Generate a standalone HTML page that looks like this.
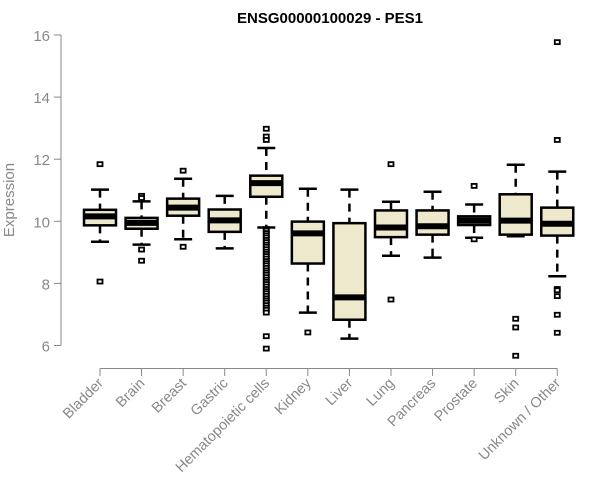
<!DOCTYPE html>
<html><head><meta charset="utf-8"><style>
body{margin:0;background:#fff;}
svg{display:block;font-family:"Liberation Sans",sans-serif;}
</style></head><body>
<svg id="chart" width="600" height="500">
<text x="330" y="23" text-anchor="middle" font-weight="bold" font-size="15" fill="#000">ENSG00000100029 - PES1</text>
<text transform="translate(14,200) rotate(-90)" text-anchor="middle" font-size="15" fill="#888">Expression</text>
</svg>
<script>
const categories=["Bladder","Brain","Breast","Gastric","Hematopoietic cells","Kidney","Liver","Lung","Pancreas","Prostate","Skin","Unknown / Other"];
const q1=[9.87,9.76,10.18,9.66,10.79,8.64,6.83,9.49,9.57,9.88,9.57,9.54];
const medians=[10.16,9.95,10.44,10.03,11.23,9.61,7.55,9.8,9.84,10.02,10.02,9.92];
const q3=[10.37,10.11,10.73,10.38,11.47,9.99,9.94,10.35,10.35,10.16,10.87,10.44];
const whiskerLow=[9.34,9.25,9.42,9.13,9.8,7.06,6.22,8.89,8.83,9.47,9.52,8.23];
const whiskerHigh=[11.02,10.64,11.37,10.82,12.36,11.05,11.02,10.63,10.95,10.54,11.82,11.6];
const outliers=[
 [11.84,8.06],
 [10.82,10.75,9.09,8.73],
 [11.63,9.18],
 [],
 [12.98,12.73,12.62,9.75,9.7,9.62,9.55,9.48,9.4,9.33,9.25,9.18,9.1,9.02,8.95,8.88,8.8,8.72,8.65,8.58,8.5,8.42,8.35,8.28,8.2,8.12,8.05,7.98,7.9,7.82,7.75,7.68,7.6,7.52,7.45,7.38,7.3,7.22,7.15,7.06,6.3,5.9],
 [6.42],
 [],
 [11.84,7.48],
 [],
 [11.14,9.42],
 [6.86,6.58,5.67],
 [15.77,12.62,7.82,7.78,7.59,6.99,6.41]
];
const yTicks=[6,8,10,12,14,16];
const NS="http://www.w3.org/2000/svg";
const svg=document.getElementById("chart");
const y=v=>35+(16-v)*31.05;
const x=i=>100+i*41.57;
function mk(tag,attrs,parent){const e=document.createElementNS(NS,tag);for(const k in attrs)e.setAttribute(k,attrs[k]);(parent||svg).appendChild(e);return e;}
// y axis
const ya=mk("g",{});


mk("line",{x1:61,x2:61,y1:y(16),y2:y(6),stroke:"#888"},ya);
yTicks.forEach(t=>{
 mk("line",{x1:54,x2:61,y1:y(t),y2:y(t),stroke:"#888"},ya);
 const tx=mk("text",{x:50,y:y(t)+6,"text-anchor":"end","font-size":"15",fill:"#888"},ya);
 tx.textContent=t;
 
 
});
// x axis
const xa=mk("g",{});


mk("line",{x1:x(0),x2:x(categories.length-1),y1:368.5,y2:368.5,stroke:"#888"},xa);
categories.forEach((c,i)=>{
 mk("line",{x1:x(i),x2:x(i),y1:368.5,y2:376,stroke:"#888"},xa);
 const tx=mk("text",{transform:`translate(${x(i)+4},${384}) rotate(-45)`,"text-anchor":"end","font-size":"14.5",fill:"#888"},xa);
 tx.textContent=c;
 
 
});
// boxes
categories.forEach((c,i)=>{
 const g=mk("g",{});
 
 
 const cx=x(i);
 mk("line",{x1:cx,x2:cx,y1:y(whiskerHigh[i]),y2:y(q3[i]),stroke:"#000","stroke-width":2.5,"stroke-dasharray":"8,6"},g);
 mk("line",{x1:cx,x2:cx,y1:y(q1[i]),y2:y(whiskerLow[i]),stroke:"#000","stroke-width":2.5,"stroke-dasharray":"8,6"},g);
 mk("line",{x1:cx-9,x2:cx+9,y1:y(whiskerHigh[i]),y2:y(whiskerHigh[i]),stroke:"#000","stroke-width":2.5},g);
 mk("line",{x1:cx-9,x2:cx+9,y1:y(whiskerLow[i]),y2:y(whiskerLow[i]),stroke:"#000","stroke-width":2.5},g);
 mk("rect",{x:cx-16,y:y(q3[i]),width:32,height:y(q1[i])-y(q3[i]),fill:"#EEE8CD",stroke:"#000","stroke-width":2.5},g);
 mk("line",{x1:cx-16,x2:cx+16,y1:y(medians[i]),y2:y(medians[i]),stroke:"#000","stroke-width":6},g);
 outliers[i].forEach(v=>{
  const r=mk("rect",{x:cx-2.5,y:y(v)-2,width:5,height:4,fill:"#fff",stroke:"#000","stroke-width":1.8},g);
  
  
 });
});
</script>
</body></html>
